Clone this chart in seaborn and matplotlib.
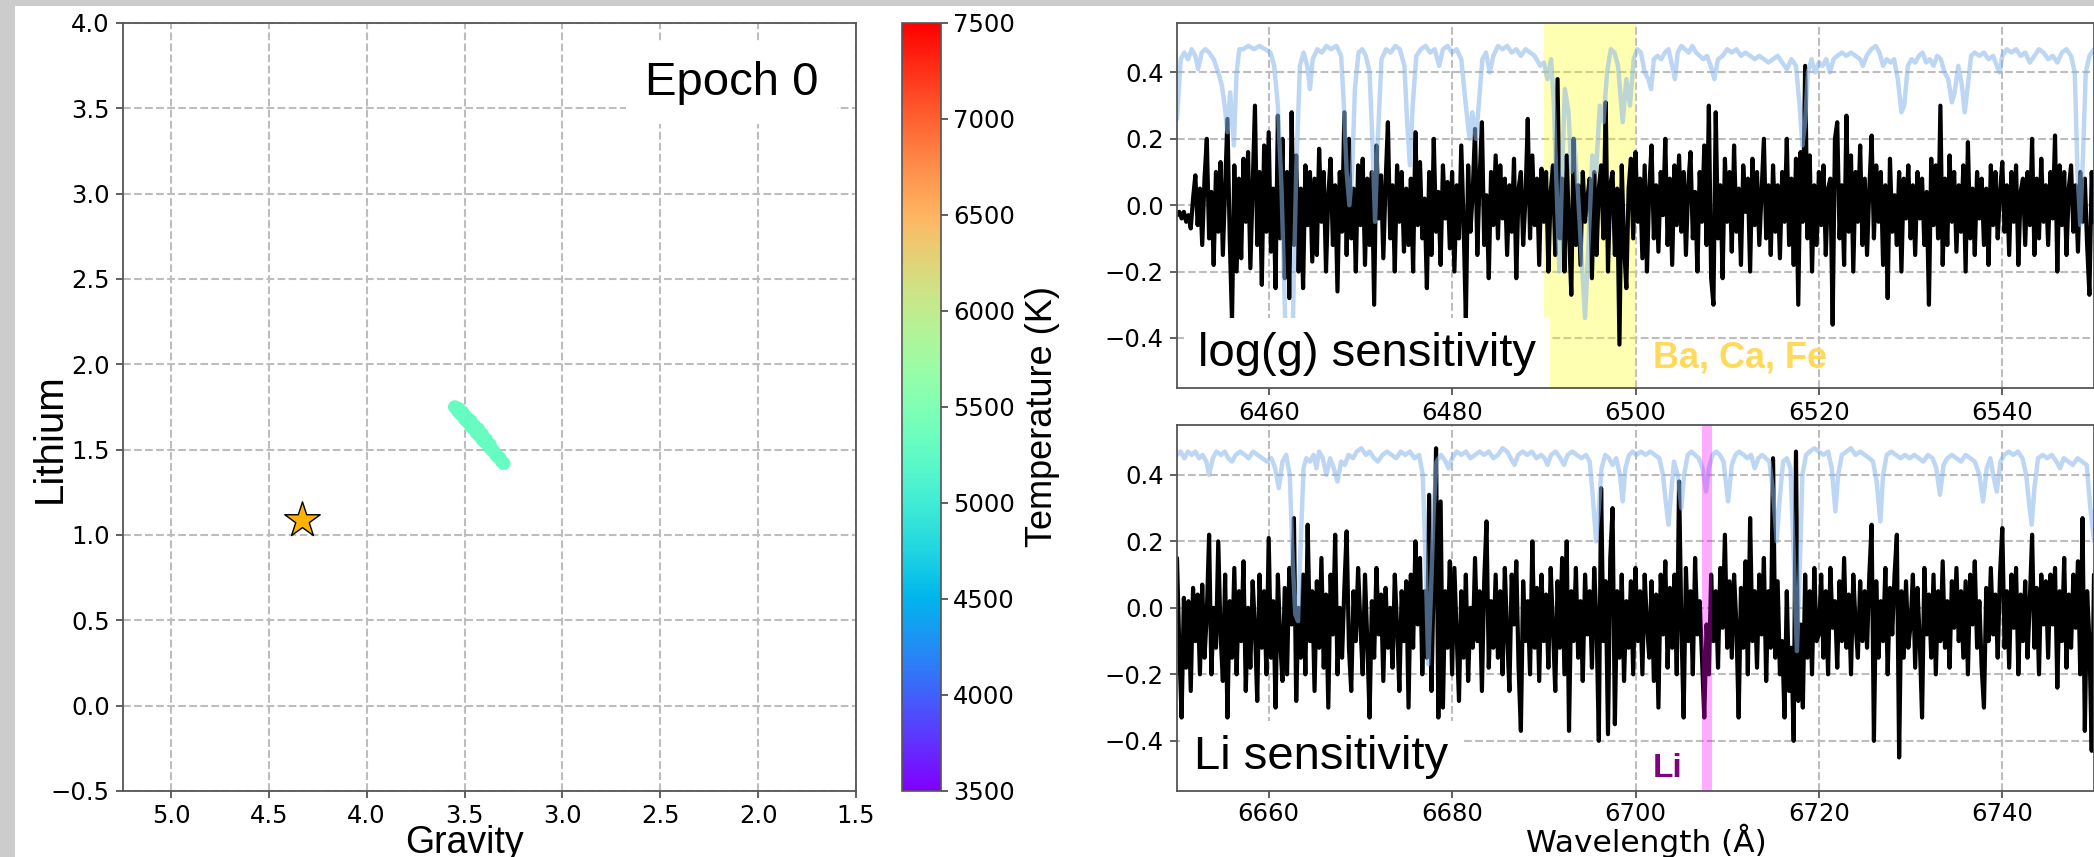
import numpy as np
import pandas as pd
import matplotlib
matplotlib.use("Agg")
import matplotlib.pyplot as plt
from matplotlib.colors import Normalize
from matplotlib.cm import ScalarMappable
from matplotlib.patches import Rectangle
import seaborn as sns

sns.set_theme(style="ticks")
plt.rcParams["font.family"] = ["DejaVu Sans"]
plt.rcParams["axes.unicode_minus"] = True
for key in ("text.color", "axes.labelcolor", "xtick.labelcolor", "ytick.labelcolor"):
    plt.rcParams[key] = "black"
LABEL_FONT = ["Liberation Sans", "DejaVu Sans"]

# ---------------- left panel: walkers in (gravity, lithium), coloured by Teff
streak_gravity = [3.55, 3.54, 3.53, 3.52, 3.51, 3.50, 3.49, 3.48, 3.47, 3.46,
                  3.45, 3.44, 3.43, 3.42, 3.41, 3.40, 3.39, 3.38, 3.37, 3.36,
                  3.35, 3.34, 3.33, 3.32, 3.31, 3.30,
                  3.53, 3.51, 3.49, 3.47, 3.45, 3.43, 3.41, 3.39, 3.37]
streak_lithium = [1.75, 1.74, 1.72, 1.71, 1.70, 1.68, 1.67, 1.66, 1.64, 1.63,
                  1.62, 1.60, 1.59, 1.58, 1.56, 1.55, 1.54, 1.53, 1.51, 1.50,
                  1.49, 1.47, 1.46, 1.45, 1.43, 1.42,
                  1.74, 1.72, 1.69, 1.67, 1.64, 1.62, 1.59, 1.56, 1.53]
streak_teff = [5300, 5310, 5290, 5320, 5300, 5330, 5310, 5290, 5320, 5300,
               5310, 5330, 5300, 5290, 5320, 5310, 5300, 5330, 5290, 5310,
               5300, 5320, 5310, 5290, 5300, 5310,
               5320, 5300, 5310, 5290, 5300, 5310, 5320, 5300, 5310]
star_gravity = [4.33]
star_lithium = [1.09]

gravity_ticks = [5.0, 4.5, 4.0, 3.5, 3.0, 2.5, 2.0, 1.5]
lithium_ticks = [-0.5, 0.0, 0.5, 1.0, 1.5, 2.0, 2.5, 3.0, 3.5, 4.0]
teff_ticks = [3500, 4000, 4500, 5000, 5500, 6000, 6500, 7000, 7500]

# ---------------- right panels: sensitivity residuals (0.25 A sampling)
logg_start, li_start, pix_step = 6450.0, 6650.0, 0.25
logg_resid = [
    -.03, -.02, -.04, -.02, -.05, -.03, -.07, .02, .09, -.06, .05, -.12, .08, .2, -.1, .04, -.18, .1, -.08, .13,
    -.15, .06, .26, -.1, -.35, .12, -.2, .08, -.16, .14, -.05, .16, -.19, .06, .3, -.12, .1, -.24, .18, -.08,
    .22, -.14, .05, -.25, .27, -.1, .2, -.22, .1, -.28, .28, -.12, .15, -.2, .05, -.25, .12, -.06, .1, -.17,
    .08, -.15, .17, -.05, .1, -.2, .03, .14, -.12, .06, -.26, .1, -.08, .28, -.15, .2, -.1, .05, -.2, .12,
    -.06, .14, -.18, .08, -.12, .1, -.3, .18, -.04, .09, -.16, .07, .25, -.1, .06, -.2, .12, -.05, .1, -.14,
    .05, -.12, .08, -.2, .22, -.06, .13, -.1, .02, -.25, .1, -.15, .2, -.08, .04, -.18, .12, -.04, .07, -.13,
    .1, -.2, .06, -.1, .18, -.05, -.35, .12, -.08, .04, .23, -.15, .08, .25, -.12, .03, -.22, .1, -.06, .15,
    -.1, .12, -.04, .08, -.15, .06, -.08, .14, -.22, .05, .1, -.12, .02, .26, -.1, .15, -.06, .08, -.18, .11,
    -.05, .1, -.2, .04, .12, -.15, .38, -.1, .08, -.2, .15, -.08, -.27, .2, -.12, .06, -.18, .1, -.05, .02,
    .08, -.22, .1, -.15, .05, .12, -.1, .31, -.2, .06, .1, -.15, .05, -.42, .12, -.12, -.25, .05, .14, -.1,
    .16, -.05, .08, -.16, .12, -.2, .05, .18, -.1, .06, -.14, .1, -.03, .2, -.12, .08, -.18, .12, -.06, .15,
    -.08, .1, -.15, .06, .16, -.1, .04, -.2, .1, -.05, .18, -.12, .3, -.22, -.3, .28, -.1, .06, -.22, .14,
    -.05, .1, -.14, .18, -.08, .05, -.18, .12, -.02, .08, -.2, .14, -.06, .1, -.12, .04, .2, -.1, .06, -.15,
    .12, -.08, .06, -.16, .1, -.05, .2, -.12, .08, -.18, .14, -.3, .16, -.05, .42, -.1, .15, -.2, .06, -.12,
    .1, -.06, .12, -.15, .05, .08, -.36, .2, .25, -.1, .06, -.18, .27, -.08, .15, -.2, .1, -.05, .18, -.12,
    .08, -.15, .05, .21, -.1, .12, -.05, .1, -.18, .06, -.28, .14, -.08, .03, -.12, .1, -.2, .08, -.04, .12,
    -.1, .06, -.15, .1, -.04, .08, -.12, .04, -.3, .14, -.06, .12, -.1, .3, -.18, .08, -.12, .15, -.05, .1,
    -.14, .06, -.08, .12, -.2, .19, -.1, .05, -.15, .1, -.04, .08, -.12, .05, -.18, .12, -.06, .1, -.1, .04,
    .13, -.08, .06, -.15, .1, -.05, .12, -.18, .04, .08, -.12, .1, -.06, .2, -.15, .08, -.1, .14, -.05, .06,
    -.12, .1, -.04, .21, -.2, .12, -.06, .1, -.15, .05, .12, -.08, .06, -.14, .1, -.05, .08, -.12, -.27, .1,
    -.05,
]
li_resid = [
    .15, -.12, -.33, .03, -.18, .02, -.25, .06, -.1, .04, -.2, .07, -.15, -.02, .22, -.2, .0, -.12, .2, -.08,
    -.22, .1, -.33, .02, -.15, .12, -.2, .05, -.1, .14, -.25, .0, -.18, .08, -.06, -.28, .1, -.12, .05, -.2,
    .21, -.15, .02, -.3, .1, -.1, -.22, .06, -.2, .12, -.05, .27, -.28, .0, -.15, .1, -.2, .25, -.1, .05,
    -.25, .08, -.12, .15, -.18, .04, -.3, .1, -.08, .22, -.2, .0, -.15, .06, .23, -.12, -.25, .05, -.1, .12,
    -.05, -.2, .1, -.1, -.33, .02, -.15, .12, -.08, .04, -.22, .06, -.12, .0, -.18, .1, -.06, -.25, .05, -.1,
    .08, -.3, .1, -.12, .2, -.05, .15, -.2, .05, -.15, .34, -.25, .1, .48, -.33, .32, -.3, .05, -.12, .14,
    -.2, .12, -.08, -.28, .05, -.15, .1, -.22, .0, -.12, .15, -.1, .05, -.25, .08, .26, -.18, .02, -.12, .1,
    -.15, .05, -.2, .12, -.08, -.25, .1, -.05, .14, -.18, -.37, .08, -.1, .02, -.2, .2, -.12, .06, -.22, .1,
    -.1, .04, -.18, .12, -.06, -.25, .08, -.12, .15, -.2, .2, -.37, .05, -.1, .12, -.15, .02, -.22, .1, -.08,
    .05, -.18, .12, -.05, -.4, .36, -.1, .08, -.38, .15, .3, -.35, .05, -.15, .1, -.22, .02, -.12, .08, -.2,
    .12, -.1, .05, -.2, .1, -.05, -.15, .08, -.22, .04, -.3, .1, -.08, .14, -.18, .06, -.12, .1, -.2, .38,
    -.05, -.33, .12, -.1, .05, -.2, .15, -.08, .02, -.15, -.33, -.05, -.2, .1, -.1, .05, -.18, .12, -.06, .22,
    -.12, .08, -.15, .1, -.05, -.33, .06, -.12, .14, -.2, .27, -.1, .05, -.18, .1, -.08, .15, -.22, .05, -.12,
    .45, -.15, .08, -.2, -.1, -.33, .05, -.25, -.12, -.4, .47, -.28, -.05, -.3, .1, -.15, .05, -.2, .12, -.1,
    -.08, .1, -.15, .05, -.2, .12, -.06, .02, -.18, .08, -.1, .15, -.12, .04, -.2, .1, -.05, -.15, .08, -.1,
    .05, -.12, .1, .25, -.4, .08, -.15, .02, -.1, .12, -.2, .06, -.08, .1, .22, -.45, .05, -.15, .08, -.12,
    -.05, .1, -.18, .06, -.1, -.33, .12, -.08, .04, -.15, .1, -.2, .05, -.1, .14, -.12, .02, -.18, .08, -.06,
    .12, -.1, .05, -.15, .08, -.2, .1, -.05, .14, -.12, .02, -.18, -.3, .06, -.1, .12, -.08, .04, -.15, .1,
    .24, -.12, .05, -.18, .1, -.06, .12, -.2, .04, -.1, .08, -.15, .02, .22, -.12, .06, -.2, .1, -.05, .08,
    -.15, .1, -.05, .12, -.24, .05, -.1, .15, -.18, .04, -.12, .1, -.06, .14, -.2, .27, -.37, .05, -.1, -.43,
    .1,
]

# synthetic template spectra (wavelength, offset flux)
logg_template = [
    (6450.0, .26), (6450.4, .44), (6450.8, .46), (6451.2, .44), (6451.6, .47), (6452.0, .45), (6452.3, .41),
    (6452.7, .46), (6453.1, .47), (6453.5, .46), (6454.0, .44), (6454.5, .40), (6454.9, .36), (6455.2, .30),
    (6455.5, .22), (6455.8, .34), (6456.2, .18), (6456.5, .40), (6456.8, .47), (6457.2, .47), (6457.8, .48),
    (6458.4, .47), (6459.0, .48), (6459.6, .47), (6460.2, .46), (6460.6, .42), (6461.0, .30), (6461.4, .05),
    (6461.8, -.35), (6462.2, -.50), (6462.6, -.40), (6463.0, .10), (6463.4, .42), (6463.8, .46), (6464.2, .42),
    (6464.5, .35), (6464.8, .44), (6465.3, .47), (6465.8, .46), (6466.3, .48), (6466.8, .47), (6467.4, .48),
    (6467.9, .45), (6468.2, .30), (6468.5, .10), (6468.8, .00), (6469.1, .10), (6469.4, .35), (6469.8, .46),
    (6470.2, .47), (6470.6, .45), (6471.0, .40), (6471.3, .20), (6471.6, -.05), (6471.9, .20), (6472.3, .44),
    (6472.8, .47), (6473.3, .46), (6473.8, .48), (6474.3, .47), (6474.8, .42), (6475.1, .25), (6475.4, .12),
    (6475.7, .30), (6476.1, .45), (6476.6, .47), (6477.1, .48), (6477.6, .46), (6478.1, .47), (6478.6, .42),
    (6479.0, .47), (6479.5, .48), (6480.0, .46), (6480.5, .47), (6481.0, .44), (6481.5, .30), (6481.9, .20),
    (6482.2, .28), (6482.6, .20), (6482.9, .30), (6483.3, .44), (6483.7, .46), (6484.1, .40), (6484.5, .45),
    (6485.0, .48), (6485.5, .47), (6486.0, .48), (6486.5, .46), (6487.0, .47), (6487.5, .45), (6488.0, .47),
    (6488.5, .46), (6489.0, .45), (6489.6, .42), (6490.0, .43), (6490.4, .38), (6490.8, .44), (6491.1, .30),
    (6491.4, .05), (6491.7, -.20), (6492.0, .10), (6492.3, .35), (6492.7, .28), (6493.0, .10), (6493.3, .20),
    (6493.7, .05), (6494.1, -.15), (6494.5, -.34), (6494.9, -.10), (6495.3, .15), (6495.7, .10), (6496.1, .30),
    (6496.5, .25), (6496.9, .40), (6497.3, .47), (6497.7, .46), (6498.1, .42), (6498.6, .25), (6499.0, .38),
    (6499.4, .30), (6499.8, .44), (6500.2, .47), (6500.6, .46), (6501.0, .40), (6501.4, .38), (6501.7, .35),
    (6502.0, .44), (6502.4, .45), (6502.8, .44), (6503.2, .46), (6503.6, .47), (6504.0, .42), (6504.3, .38),
    (6504.6, .46), (6505.0, .48), (6505.4, .47), (6505.8, .46), (6506.2, .48), (6506.6, .46), (6507.0, .45),
    (6507.4, .44), (6507.8, .45), (6508.2, .42), (6508.6, .38), (6509.0, .44), (6509.5, .45), (6510.0, .47),
    (6510.5, .46), (6511.0, .47), (6511.5, .45), (6512.0, .46), (6512.5, .45), (6513.0, .44), (6513.5, .45),
    (6514.0, .44), (6514.5, .43), (6515.0, .44), (6515.5, .45), (6516.0, .43), (6516.5, .41), (6517.0, .44),
    (6517.5, .42), (6517.9, .30), (6518.2, .18), (6518.5, .25), (6518.8, .40), (6519.2, .44), (6519.6, .40),
    (6520.0, .43), (6520.4, .42), (6520.8, .44), (6521.2, .40), (6521.6, .44), (6522.0, .45), (6522.5, .46),
    (6523.0, .45), (6523.5, .46), (6524.0, .45), (6524.5, .44), (6524.8, .42), (6525.2, .45), (6525.7, .47),
    (6526.2, .48), (6526.6, .46), (6527.0, .42), (6527.4, .44), (6527.8, .43), (6528.2, .44), (6528.6, .38),
    (6529.0, .28), (6529.3, .30), (6529.7, .42), (6530.1, .44), (6530.5, .43), (6530.9, .45), (6531.3, .46),
    (6531.7, .43), (6532.1, .44), (6532.5, .42), (6532.9, .45), (6533.3, .44), (6533.7, .40), (6534.1, .38),
    (6534.5, .31), (6534.8, .34), (6535.2, .42), (6535.6, .36), (6535.9, .28), (6536.2, .35), (6536.6, .45),
    (6537.0, .46), (6537.5, .45), (6538.0, .46), (6538.5, .44), (6539.0, .45), (6539.4, .42), (6539.7, .40),
    (6540.0, .45), (6540.5, .47), (6541.0, .46), (6541.5, .47), (6542.0, .45), (6542.5, .46), (6543.0, .43),
    (6543.5, .45), (6544.0, .47), (6544.5, .46), (6545.0, .44), (6545.5, .45), (6546.0, .43), (6546.5, .46),
    (6547.0, .47), (6547.5, .45), (6547.9, .40), (6548.2, .10), (6548.5, -.06), (6548.8, .15), (6549.1, .40),
    (6549.5, .45), (6550.0, .47),
]
li_template = [
    (6650.0, .46), (6650.4, .47), (6650.8, .45), (6651.2, .47), (6651.6, .46), (6652.0, .47), (6652.4, .45),
    (6652.8, .46), (6653.2, .44), (6653.5, .40), (6653.9, .45), (6654.3, .47), (6654.8, .46), (6655.2, .47),
    (6655.6, .45), (6656.0, .44), (6656.4, .46), (6656.9, .47), (6657.4, .46), (6657.8, .45), (6658.3, .47),
    (6658.8, .46), (6659.3, .45), (6659.8, .44), (6660.3, .45), (6660.7, .42), (6661.1, .36), (6661.5, .44),
    (6661.9, .46), (6662.3, .40), (6662.6, .15), (6662.9, -.02), (6663.2, -.04), (6663.5, .20), (6663.8, .42),
    (6664.1, .45), (6664.5, .44), (6664.9, .46), (6665.2, .42), (6665.5, .47), (6665.9, .45), (6666.3, .40),
    (6666.7, .45), (6667.1, .42), (6667.5, .38), (6667.9, .44), (6668.3, .43), (6668.7, .46), (6669.2, .45),
    (6669.6, .47), (6670.1, .48), (6670.6, .46), (6671.0, .47), (6671.5, .45), (6671.9, .44), (6672.4, .46),
    (6672.9, .47), (6673.4, .46), (6673.9, .45), (6674.4, .47), (6674.9, .46), (6675.4, .47), (6675.9, .45),
    (6676.4, .46), (6676.8, .40), (6677.1, .15), (6677.4, -.17), (6677.7, .05), (6678.0, .30), (6678.3, .44),
    (6678.8, .46), (6679.3, .44), (6679.6, .42), (6680.0, .45), (6680.5, .47), (6681.0, .46), (6681.5, .47),
    (6682.0, .45), (6682.5, .46), (6683.0, .47), (6683.5, .46), (6684.0, .47), (6684.5, .45), (6685.0, .46),
    (6685.5, .48), (6686.0, .47), (6686.4, .45), (6686.8, .43), (6687.2, .46), (6687.7, .47), (6688.2, .46),
    (6688.7, .47), (6689.2, .45), (6689.7, .46), (6690.1, .45), (6690.4, .43), (6690.8, .46), (6691.3, .47),
    (6691.8, .45), (6692.2, .43), (6692.6, .46), (6693.1, .47), (6693.6, .46), (6694.1, .45), (6694.6, .46),
    (6695.0, .44), (6695.3, .35), (6695.7, .20), (6696.0, .30), (6696.3, .42), (6696.7, .46), (6697.1, .45),
    (6697.5, .43), (6697.9, .45), (6698.3, .40), (6698.6, .32), (6698.9, .42), (6699.3, .46), (6699.7, .47),
    (6700.1, .46), (6700.6, .47), (6701.1, .46), (6701.6, .47), (6702.1, .46), (6702.6, .45), (6703.0, .40),
    (6703.3, .32), (6703.6, .25), (6703.9, .35), (6704.2, .44), (6704.6, .40), (6705.0, .30), (6705.3, .40),
    (6705.7, .46), (6706.1, .47), (6706.5, .46), (6706.9, .45), (6707.3, .42), (6707.7, .35), (6708.0, .42),
    (6708.4, .46), (6708.8, .47), (6709.2, .46), (6709.6, .44), (6710.1, .32), (6710.5, .43), (6710.9, .46),
    (6711.3, .47), (6711.8, .46), (6712.2, .45), (6712.6, .46), (6713.0, .42), (6713.4, .45), (6713.8, .46),
    (6714.2, .45), (6714.6, .44), (6715.0, .35), (6715.4, .20), (6715.7, .32), (6716.1, .44), (6716.5, .45),
    (6716.9, .42), (6717.2, .20), (6717.6, -.13), (6717.9, .10), (6718.2, .40), (6718.6, .46), (6719.0, .47),
    (6719.5, .48), (6720.0, .47), (6720.5, .46), (6721.0, .47), (6721.4, .42), (6721.8, .29), (6722.1, .40),
    (6722.5, .46), (6723.0, .47), (6723.5, .48), (6724.0, .46), (6724.5, .47), (6725.0, .46), (6725.5, .45),
    (6725.9, .44), (6726.3, .38), (6726.7, .26), (6727.0, .40), (6727.4, .46), (6727.9, .47), (6728.4, .46),
    (6728.9, .45), (6729.4, .46), (6729.9, .45), (6730.4, .46), (6730.9, .45), (6731.4, .44), (6731.9, .46),
    (6732.4, .45), (6732.8, .42), (6733.2, .34), (6733.6, .43), (6734.0, .45), (6734.5, .46), (6735.0, .45),
    (6735.5, .44), (6736.0, .46), (6736.5, .45), (6737.0, .44), (6737.5, .40), (6737.9, .32), (6738.3, .42),
    (6738.7, .45), (6739.0, .40), (6739.4, .35), (6739.8, .44), (6740.2, .46), (6740.7, .47), (6741.2, .46),
    (6741.7, .47), (6742.2, .45), (6742.6, .40), (6742.9, .32), (6743.2, .25), (6743.5, .36), (6743.9, .45),
    (6744.4, .46), (6744.9, .45), (6745.4, .46), (6745.9, .44), (6746.3, .42), (6746.7, .45), (6747.2, .44),
    (6747.7, .43), (6748.2, .45), (6748.7, .44), (6749.2, .43), (6749.6, .30), (6750.0, .20),
]

logg_ticks = [6460, 6480, 6500, 6520, 6540]
li_ticks = [6660, 6680, 6700, 6720, 6740]
resid_ticks = [-0.4, -0.2, 0.0, 0.2, 0.4]
logg_band = (6490.0, 6500.0)
li_band = (6707.25, 6708.35)

# ---------------- figure
W, H = 2094, 857
fig = plt.figure(figsize=(W / 100, H / 100), dpi=100, facecolor="#cccccc")
fig.add_artist(Rectangle((15 / W, 0), 1, 1 - 6 / H, transform=fig.transFigure,
                         facecolor="white", edgecolor="none", zorder=-10))


def px_axes(left, top, right, bottom):
    return fig.add_axes([left / W, 1 - bottom / H, (right - left) / W, (bottom - top) / H])


def style_axes(ax):
    ax.set_facecolor("white")
    ax.grid(True, linestyle="--", color="#bdbdbd", linewidth=1.5)
    for s in ax.spines.values():
        s.set_visible(True)
        s.set_color("#555555")
        s.set_linewidth(1.3)
    ax.tick_params(labelsize=17.5, length=5, width=1.2, color="#444444",
                   labelcolor="black", pad=4.5)


# left: gravity vs lithium
ax0 = px_axes(123, 23, 856, 791)
style_axes(ax0)
walkers = pd.DataFrame({"gravity": streak_gravity, "lithium": streak_lithium, "teff": streak_teff})
sns.scatterplot(data=walkers, x="gravity", y="lithium", hue="teff", palette="rainbow",
                hue_norm=(3500, 7500), s=95, edgecolor="none", legend=False, ax=ax0, zorder=4)
sns.scatterplot(x=star_gravity, y=star_lithium, marker="*", s=720, color="#ffb300",
                edgecolor="black", linewidth=1.0, ax=ax0, zorder=5)
ax0.set_xlim(5.245, 1.5)
ax0.set_ylim(-0.5, 4.0)
ax0.set_xticks(gravity_ticks)
ax0.set_yticks(lithium_ticks)
ax0.set_xlabel("Gravity", fontsize=27, family=LABEL_FONT)
ax0.set_ylabel("Lithium", fontsize=29, family=LABEL_FONT)
ax0.xaxis.set_label_coords(0.466, -0.044)
ax0.yaxis.set_label_coords(-0.074, 0.46)
ax0.text(0.830, 0.906, "Epoch 0", transform=ax0.transAxes, fontsize=34, family=LABEL_FONT,
         ha="center", va="baseline", zorder=6,
         bbox=dict(boxstyle="square,pad=0.4", facecolor="white", edgecolor="none"))

# colour bar
cax = px_axes(902, 23, 941, 791)
sm = ScalarMappable(norm=Normalize(3500, 7500), cmap="rainbow")
cbar = fig.colorbar(sm, cax=cax, ticks=teff_ticks)
cbar.outline.set_edgecolor("#555555")
cbar.outline.set_linewidth(1.2)
cax.tick_params(labelsize=17.5, length=5, width=1.2, color="#444444", labelcolor="black")
cbar.set_label("Temperature (K)", fontsize=26, family=LABEL_FONT, color="black")
cax.yaxis.set_label_coords(3.154, 0.487)

TPL_COLOR = (0.53, 0.71, 0.92)


def spectrum_panel(ax, start, resid, template, band, band_color, band_alpha, band_z,
                   xlim, xticks):
    style_axes(ax)
    wave = start + pix_step * np.arange(len(resid))
    t_wave = [w for w, _ in template]
    t_flux = [f for _, f in template]
    ax.axvspan(*band, color=band_color, alpha=band_alpha, lw=0, zorder=band_z)
    sns.lineplot(x=wave, y=resid, color="black", linewidth=3.0, ax=ax, zorder=2.0,
                 estimator=None, sort=False)
    sns.lineplot(x=t_wave, y=t_flux, color=TPL_COLOR, alpha=0.55, linewidth=3.2, ax=ax,
                 zorder=2.1, estimator=None, sort=False)
    ax.set_xlim(*xlim)
    ax.set_ylim(-0.55, 0.55)
    ax.set_xticks(xticks)
    ax.set_yticks(resid_ticks)
    ax.set_xlabel("")
    ax.set_ylabel("")


axA = px_axes(1177, 22.7, 2094, 387.7)
spectrum_panel(axA, logg_start, logg_resid, logg_template, logg_band, "yellow", 0.3, 1.8,
               (6450, 6550), logg_ticks)
axA.text(6452.3, -0.486, "log(g) sensitivity", fontsize=34, family=LABEL_FONT,
         ha="left", va="baseline", zorder=2.4, clip_on=True,
         bbox=dict(boxstyle="square,pad=0.3", facecolor="white", edgecolor="none"))
axA.text(6501.9, -0.489, "Ba, Ca, Fe", fontsize=26, fontweight="bold", family=LABEL_FONT,
         color="#ffd95a", ha="left", va="baseline", zorder=2.4)

axB = px_axes(1177, 425, 2094, 790.7)
spectrum_panel(axB, li_start, li_resid, li_template, li_band, "magenta", 0.33, 2.2,
               (6650, 6750), li_ticks)
axB.tick_params(axis="x", pad=3.0)
axB.text(6651.9, -0.485, "Li sensitivity", fontsize=34, family=LABEL_FONT,
         ha="left", va="baseline", zorder=2.4, clip_on=True,
         bbox=dict(boxstyle="square,pad=0.3", facecolor="white", edgecolor="none"))
axB.text(6701.9, -0.509, "Li", fontsize=24, fontweight="bold", family=LABEL_FONT,
         color="#800080", ha="left", va="baseline", zorder=2.4)
axB.set_xlabel("Wavelength (Å)", fontsize=22.5)
axB.xaxis.set_label_coords(0.512, -0.091)

fig.savefig("out.png", dpi=100, facecolor=fig.get_facecolor())
